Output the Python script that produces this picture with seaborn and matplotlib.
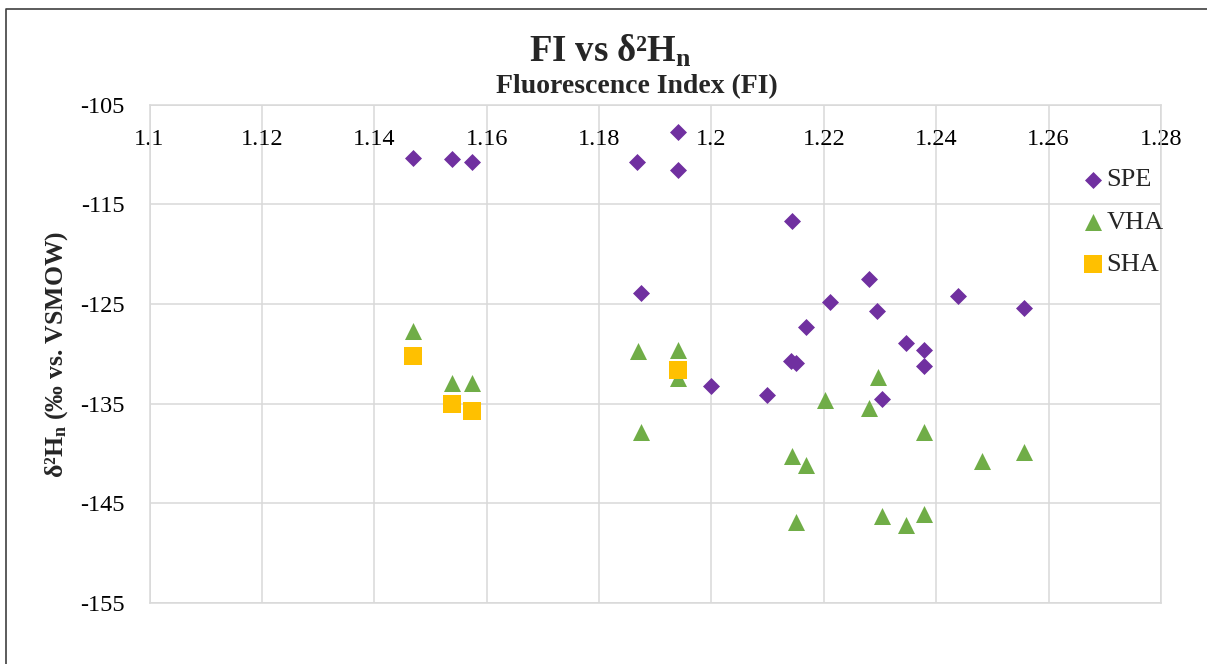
import matplotlib
matplotlib.use("Agg")
import matplotlib.pyplot as plt
import seaborn as sns
import pandas as pd
from matplotlib.lines import Line2D

# ---------------- data ----------------
spe_fi = [1.1469, 1.1539, 1.1574, 1.1868, 1.1941, 1.1941, 1.1875, 1.2000,
          1.2144, 1.2281, 1.2211, 1.2438, 1.2556, 1.2295, 1.2169, 1.2346,
          1.2379, 1.2378, 1.2142, 1.2150, 1.2099, 1.2304]
spe_d2h = [-110.38, -110.45, -110.72, -110.78, -107.77, -111.58, -123.86, -133.20,
           -116.67, -122.50, -124.82, -124.22, -125.36, -125.69, -127.33, -128.93,
           -129.60, -131.18, -130.71, -130.88, -134.12, -134.55]

vha_fi = [1.1469, 1.1869, 1.1941, 1.1941, 1.1539, 1.1574, 1.1875, 1.2296,
          1.2202, 1.2281, 1.2379, 1.2144, 1.2169, 1.2481, 1.2556, 1.2150,
          1.2304, 1.2346, 1.2379]
vha_d2h = [-127.67, -129.67, -129.60, -132.45, -132.95, -132.90, -137.80, -132.35,
           -134.62, -135.45, -137.80, -140.24, -141.14, -140.71, -139.80, -146.89,
           -146.32, -147.16, -146.05]

sha_fi = [1.1469, 1.1539, 1.1574, 1.1941]
sha_d2h = [-130.17, -135.02, -135.69, -131.61]

series_names = ["SPE", "VHA", "SHA"]

x_ticks = [1.10, 1.12, 1.14, 1.16, 1.18, 1.20, 1.22, 1.24, 1.26, 1.28]
x_tick_labels = ["1.1", "1.12", "1.14", "1.16", "1.18", "1.2", "1.22", "1.24", "1.26", "1.28"]
y_ticks = [-155, -145, -135, -125, -115, -105]
y_tick_labels = ["-155", "-145", "-135", "-125", "-115", "-105"]

title_text = "FI vs δ²H$_\\mathbf{n}$"
x_label_text = "Fluorescence Index (FI)"
y_label_text = "δ²H$_\\mathbf{n}$ (‰ vs. VSMOW)"

# ---------------- style ----------------
sns.set_style("white")
plt.rcParams["font.family"] = ["Liberation Serif", "DejaVu Serif"]
plt.rcParams["mathtext.fontset"] = "custom"
plt.rcParams["mathtext.rm"] = "Liberation Serif"
plt.rcParams["mathtext.bf"] = "Liberation Serif:bold"
plt.rcParams["mathtext.it"] = "Liberation Serif:italic"

W, H = 1207, 664
fig = plt.figure(figsize=(W / 100, H / 100), dpi=100)
fig.patch.set_facecolor("white")

left_px, right_px, top_px, bottom_px = 149.5, 1161.0, 104.7, 603.0
ax = fig.add_axes([left_px / W, 1 - bottom_px / H,
                   (right_px - left_px) / W, (bottom_px - top_px) / H])

df_spe = pd.DataFrame({"FI": spe_fi, "d2H": spe_d2h})
df_vha = pd.DataFrame({"FI": vha_fi, "d2H": vha_d2h})
df_sha = pd.DataFrame({"FI": sha_fi, "d2H": sha_d2h})

sns.scatterplot(data=df_spe, x="FI", y="d2H", marker="D", s=75, color="#7030A0",
                linewidth=0, label=series_names[0], ax=ax, zorder=3)
sns.scatterplot(data=df_vha, x="FI", y="d2H", marker="^", s=150, color="#70AD47",
                linewidth=0, label=series_names[1], ax=ax, zorder=4)
sns.scatterplot(data=df_sha, x="FI", y="d2H", marker="s", s=165, color="#FFC000",
                linewidth=0, label=series_names[2], ax=ax, zorder=5)

ax.set_xlim(1.10, 1.28)
ax.set_ylim(-155, -105)
ax.set_xticks(x_ticks)
ax.set_xticklabels(x_tick_labels)
ax.set_yticks(y_ticks)
ax.set_yticklabels(y_tick_labels)
ax.set_xlabel("")
ax.set_ylabel("")

grid_col = "#D9D9D9"
ax.grid(True, color=grid_col, linewidth=1.1)
ax.set_axisbelow(True)
for sp in ax.spines.values():
    sp.set_color(grid_col)
    sp.set_linewidth(1.1)

ax.tick_params(axis="x", bottom=False, labelbottom=False, top=False, labeltop=True,
               length=0, pad=-32.5, labelsize=17.5, colors="black")
ax.tick_params(axis="y", left=False, length=0, pad=18, labelsize=17.5, colors="black")

# legend
leg = ax.legend(loc="upper left", bbox_to_anchor=(1082 / W, 1 - 168 / H),
                bbox_transform=fig.transFigure, frameon=False, fontsize=19,
                handlelength=0.8, handletextpad=0.12, labelspacing=0.72,
                borderpad=0, borderaxespad=0)

# titles
fig.text(610 / W, 1 - 62 / H, title_text, ha="center", va="baseline",
         fontsize=26.5, fontweight="bold")
fig.text(637 / W, 1 - 93 / H, x_label_text, ha="center", va="baseline",
         fontsize=20, fontweight="bold")
fig.text(57 / W, 1 - 354 / H, y_label_text, ha="center", va="center",
         rotation=90, fontsize=18.5, fontweight="bold")

# outer chart border (left and top visible in the crop)
fig.add_artist(Line2D([5.5 / W, 5.5 / W, 1.0], [0.0, 1 - 9 / H, 1 - 9 / H],
                      transform=fig.transFigure, color="#404040", linewidth=1.2))

fig.savefig("out.png", dpi=100, facecolor="white")
